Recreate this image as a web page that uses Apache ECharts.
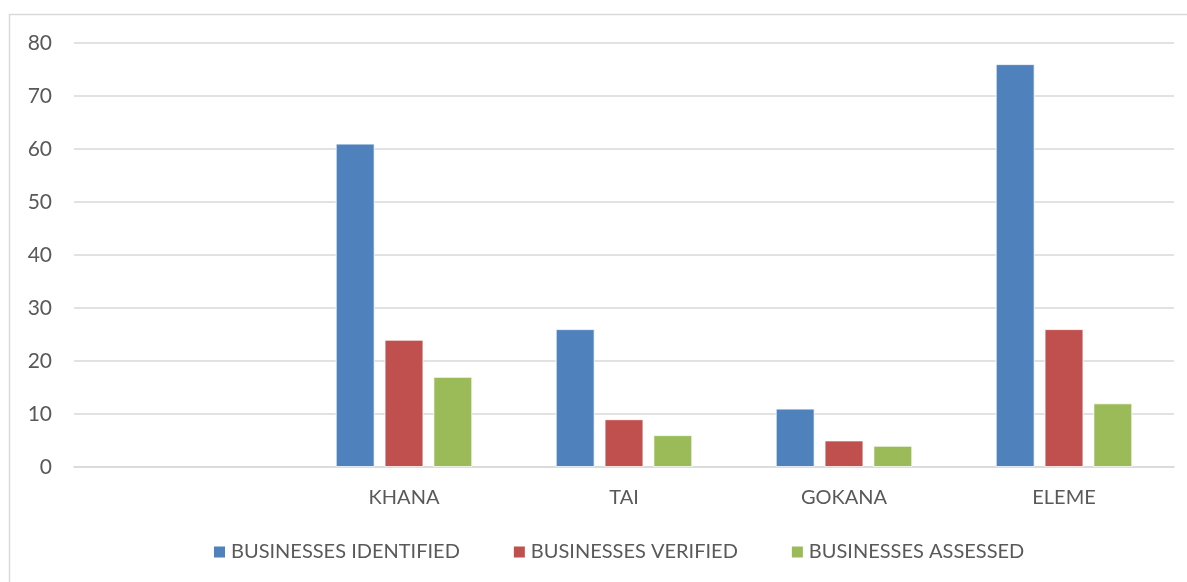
<!DOCTYPE html>
<html>
<head>
<meta charset="utf-8">
<script src="https://cdn.jsdelivr.net/npm/echarts@6/dist/echarts.min.js"></script>
<style>html,body{margin:0;padding:0;background:#fff;}#c{width:1187px;height:582px;}</style>
</head>
<body>
<div id="c"></div>
<script>
const categories = ['', 'KHANA', 'TAI', 'GOKANA', 'ELEME'];
const seriesNames = ['BUSINESSES IDENTIFIED', 'BUSINESSES VERIFIED', 'BUSINESSES ASSESSED'];
const identified = [null, 61, 26, 11, 76];
const verified = [null, 24, 9, 5, 26];
const assessed = [null, 17, 6, 4, 12];
const colors = ['#4f81bd', '#c0504d', '#9bbb59'];
const FONT = 'Lato, "Open Sans", sans-serif';

const chart = echarts.init(document.getElementById('c'));
const mk = (name, data, color) => ({
  name, type: 'bar', data,
  itemStyle: { color, borderColor: '#ffffff', borderWidth: 0.8 },
  barGap: '26%', barCategoryGap: '38%'
});
chart.setOption({
  animation: false,
  graphic: [{
    type: 'rect', silent: true, z: -1,
    shape: { x: 9.5, y: 14.5, width: 1200, height: 600 },
    style: { fill: 'none', stroke: '#d9d9d9', lineWidth: 1.5 }
  }],
  grid: { left: 74, right: 13, top: 43, bottom: 115, containLabel: false },
  legend: {
    bottom: 15, left: 207, itemWidth: 13, itemHeight: 13, itemGap: 52,
    icon: 'rect',
    textStyle: { fontFamily: FONT, fontSize: 20, color: '#595959', padding: [0, 0, 0, 0] },
    data: seriesNames
  },
  xAxis: {
    type: 'category', data: categories,
    axisLine: { lineStyle: { color: '#d9d9d9', width: 1.5 } },
    axisTick: { show: false },
    axisLabel: { fontFamily: FONT, fontSize: 20, color: '#595959', margin: 21 }
  },
  yAxis: {
    type: 'value', min: 0, max: 80, interval: 10,
    axisLine: { show: false }, axisTick: { show: false },
    splitLine: { lineStyle: { color: '#d9d9d9', width: 1.5 } },
    axisLabel: { fontFamily: FONT, fontSize: 21, color: '#595959', margin: 22 }
  },
  series: [
    mk(seriesNames[0], identified, colors[0]),
    mk(seriesNames[1], verified, colors[1]),
    mk(seriesNames[2], assessed, colors[2])
  ]
});
</script>
</body>
</html>
